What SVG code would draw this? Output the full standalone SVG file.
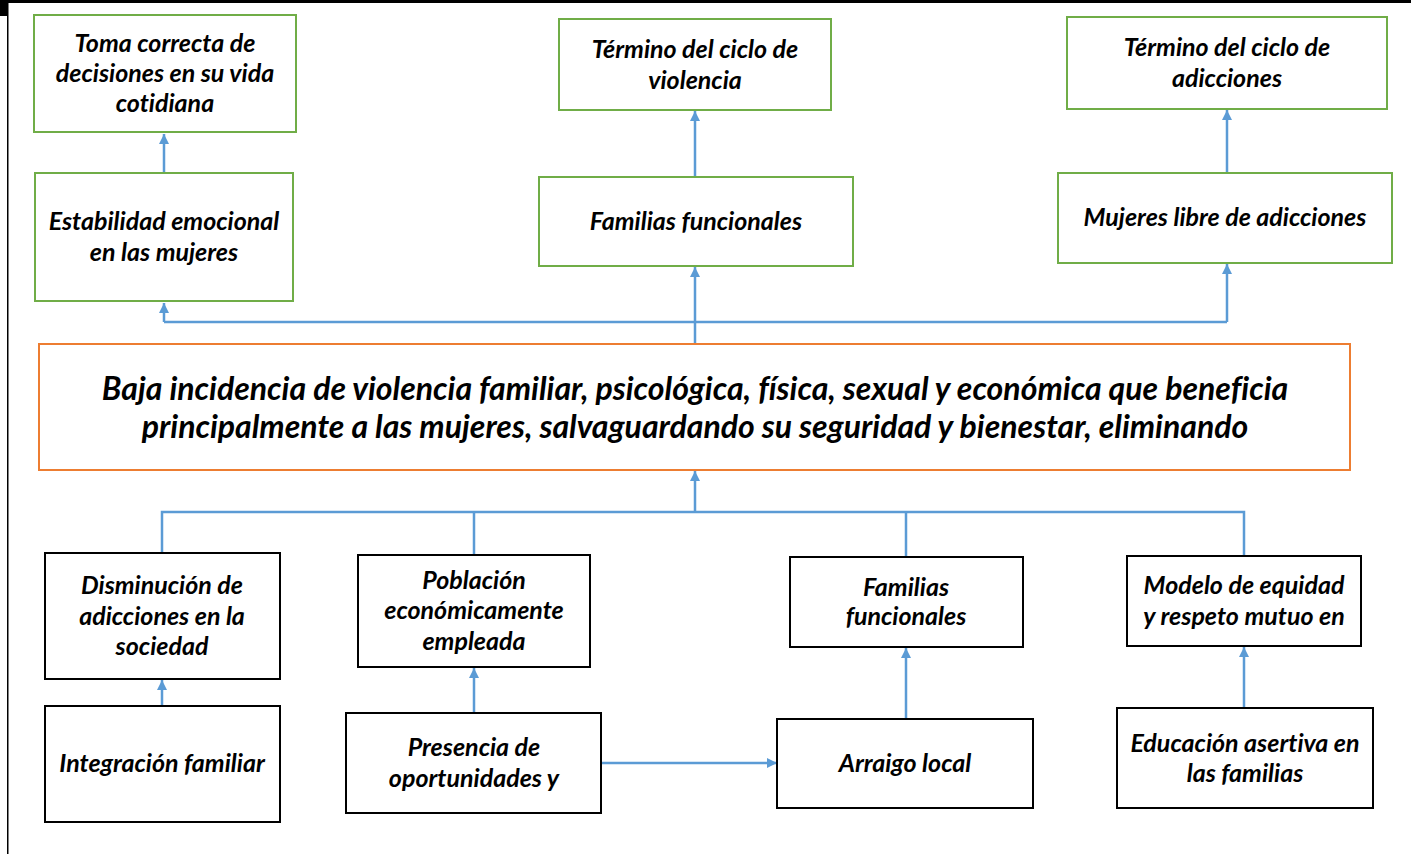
<svg xmlns="http://www.w3.org/2000/svg" width="1411" height="854" viewBox="0 0 1411 854">
<style>
  .g { fill: #fff; stroke: #70AD47; stroke-width: 2; }
  .o { fill: #fff; stroke: #ED7D31; stroke-width: 2; }
  .k { fill: #fff; stroke: #000; stroke-width: 2; }
  .t { font-family: Lato, "Liberation Sans", sans-serif; font-weight: bold; font-style: italic; font-size: 25px; fill: #000; text-anchor: middle; font-variant-ligatures: none; }
  .m { font-size: 32px; }
  .c { fill: none; stroke: #5B9BD5; stroke-width: 2.5; }
</style>
<defs>
  <marker id="ah" viewBox="0 0 10 10" refX="10" refY="5" markerWidth="4" markerHeight="4" markerUnits="strokeWidth" orient="auto">
    <path d="M0,0 L10,5 L0,10 z" fill="#5B9BD5"/>
  </marker>
</defs>
<rect x="0" y="0" width="1411" height="854" fill="#fff"/>
<g id="frame">
  <rect x="0" y="0" width="1411" height="3" fill="#000"/>
  <rect x="0" y="0" width="7" height="16" fill="#000"/>
  <rect x="7" y="0" width="1.5" height="854" fill="#000"/>
</g>
<g id="connectors">
  <path class="c" d="M164,173 L164,134" marker-end="url(#ah)"/>
  <path class="c" d="M695,177 L695,111" marker-end="url(#ah)"/>
  <path class="c" d="M1227,173 L1227,110" marker-end="url(#ah)"/>
  <path class="c" d="M164,322 L1227,322"/>
  <path class="c" d="M164,322 L164,303" marker-end="url(#ah)"/>
  <path class="c" d="M1227,322 L1227,264" marker-end="url(#ah)"/>
  <path class="c" d="M695,344 L695,267" marker-end="url(#ah)"/>
  <path class="c" d="M695,512 L695,471" marker-end="url(#ah)"/>
  <path class="c" d="M162,553 L162,512 L1244,512 L1244,556"/>
  <path class="c" d="M474,512 L474,555"/>
  <path class="c" d="M906,512 L906,557"/>
  <path class="c" d="M162,706 L162,680" marker-end="url(#ah)"/>
  <path class="c" d="M474,713 L474,668" marker-end="url(#ah)"/>
  <path class="c" d="M601,763 L777,763" marker-end="url(#ah)"/>
  <path class="c" d="M906,719 L906,648" marker-end="url(#ah)"/>
  <path class="c" d="M1244,708 L1244,647" marker-end="url(#ah)"/>
</g>
<g id="n1"><rect class="g" x="34" y="15" width="262" height="117"/>
  <text class="t" x="165" y="52">Toma correcta de</text>
  <text class="t" x="165" y="82">decisiones en su vida</text>
  <text class="t" x="165" y="112">cotidiana</text></g>
<g id="n2"><rect class="g" x="35" y="173" width="258" height="128"/>
  <text class="t" x="164" y="230">Estabilidad emocional</text>
  <text class="t" x="164" y="261">en las mujeres</text></g>
<g id="n3"><rect class="g" x="559" y="19" width="272" height="91"/>
  <text class="t" x="695" y="58">Término del ciclo de</text>
  <text class="t" x="695" y="89">violencia</text></g>
<g id="n4"><rect class="g" x="539" y="177" width="314" height="89"/>
  <text class="t" x="696" y="230">Familias funcionales</text></g>
<g id="n5"><rect class="g" x="1067" y="17" width="320" height="92"/>
  <text class="t" x="1227" y="56">Término del ciclo de</text>
  <text class="t" x="1227" y="87">adicciones</text></g>
<g id="n6"><rect class="g" x="1058" y="173" width="334" height="90"/>
  <text class="t" x="1225" y="226">Mujeres libre de adicciones</text></g>
<g id="main"><rect class="o" x="39" y="344" width="1311" height="126"/>
  <text class="t m" x="695" y="400">Baja incidencia de violencia familiar, psicológica, física, sexual y económica que beneficia</text>
  <text class="t m" x="695" y="438">principalmente a las mujeres, salvaguardando su seguridad y bienestar, eliminando</text></g>
<g id="b1"><rect class="k" x="45" y="553" width="235" height="126"/>
  <text class="t" x="162" y="594">Disminución de</text>
  <text class="t" x="162" y="625">adicciones en la</text>
  <text class="t" x="162" y="655">sociedad</text></g>
<g id="b2"><rect class="k" x="45" y="706" width="235" height="116"/>
  <text class="t" x="162" y="772">Integración familiar</text></g>
<g id="b3"><rect class="k" x="358" y="555" width="232" height="112"/>
  <text class="t" x="474" y="589">Población</text>
  <text class="t" x="474" y="619">económicamente</text>
  <text class="t" x="474" y="650">empleada</text></g>
<g id="b4"><rect class="k" x="346" y="713" width="255" height="100"/>
  <text class="t" x="474" y="756">Presencia de</text>
  <text class="t" x="474" y="787">oportunidades y</text></g>
<g id="b5"><rect class="k" x="790" y="557" width="233" height="90"/>
  <text class="t" x="906" y="596">Familias</text>
  <text class="t" x="906" y="625">funcionales</text></g>
<g id="b6"><rect class="k" x="777" y="719" width="256" height="89"/>
  <text class="t" x="905" y="772">Arraigo local</text></g>
<g id="b7"><rect class="k" x="1127" y="556" width="234" height="90"/>
  <text class="t" x="1244" y="594">Modelo de equidad</text>
  <text class="t" x="1244" y="625">y respeto mutuo en</text></g>
<g id="b8"><rect class="k" x="1117" y="708" width="256" height="100"/>
  <text class="t" x="1245" y="752">Educación asertiva en</text>
  <text class="t" x="1245" y="782">las familias</text></g>
</svg>
